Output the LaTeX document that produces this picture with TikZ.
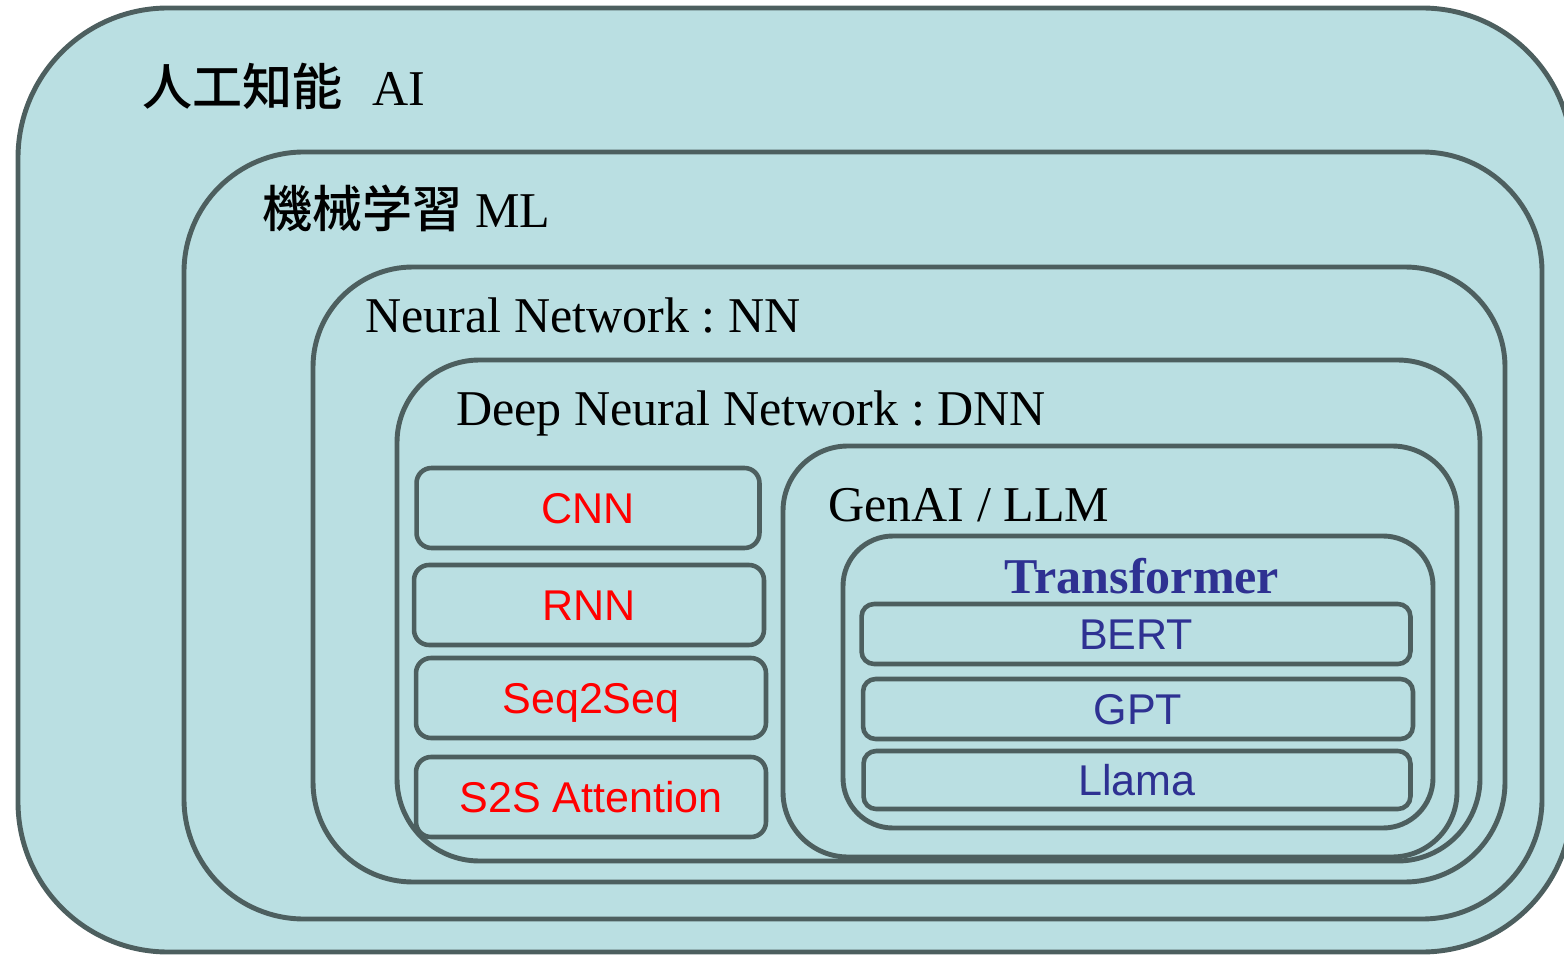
\documentclass[tikz,border=0pt]{standalone}
\usepackage{fontspec}
\setmainfont{Liberation Serif}
\setsansfont{Liberation Sans}
\newfontfamily\cjkfont{Noto Sans CJK JP}[BoldFont={Noto Sans CJK JP Medium}]
\definecolor{boxfill}{HTML}{BADFE2}
\definecolor{boxline}{HTML}{4D5F5F}
\definecolor{tfblue}{HTML}{2E3192}
\frenchspacing
\begin{document}
\begin{tikzpicture}[x=0.02cm, y=-0.02cm, every path/.style={line join=round},
    tier/.style={draw=boxline, fill=boxfill, line width=2.8pt},
    tiertext/.style={anchor=base west, inner sep=0pt, font=\fontsize{28.5}{34}\selectfont},
    model/.style={draw=boxline, line width=2.6pt, inner sep=0pt, text height=17.5pt, text depth=0pt, font=\sffamily\fontsize{24.5}{28}\selectfont},
    oldmodel/.style={model, rounded corners=0.3cm, minimum width=7cm, minimum height=1.6cm, text=red},
    newmodel/.style={model, rounded corners=0.25cm, minimum width=11cm, minimum height=1.2cm, text=tfblue}]
    \useasboundingbox (0,0) rectangle (1564,955);
    %Frames
    \draw[tier, rounded corners=3cm] (18,8) rectangle (1572,952);
    \draw[tier, rounded corners=2.4cm] (184,152) rectangle (1542,919);
    \draw[tier, rounded corners=2cm] (313,267) rectangle (1505,882);
    \draw[tier, rounded corners=1.65cm] (397,360) rectangle (1480,861);
    \draw[tier, rounded corners=1.3cm] (783,446) rectangle (1457,857);
    \draw[tier, rounded corners=1cm] (843,536) rectangle (1433,828);
    %Frame titles
    \node[tiertext] (ai) at (142,106) {{\cjkfont\bfseries 人工知能}\hspace{0.6em}AI};
    \node[tiertext] (ml) at (262,228) {{\cjkfont\bfseries 機械学習} ML};
    \node[tiertext] (nn) at (365,333) {Neural Network : NN};
    \node[tiertext] (dnn) at (456,426) {Deep Neural Network : DNN};
    \node[tiertext] (genai) at (828,521) {GenAI / LLM};
    \node[tiertext, anchor=base, font=\bfseries\fontsize{28.5}{34}\selectfont, text=tfblue] (transformer) at (1142,593) {Transformer};
    %Models before transformers
    \node[oldmodel, minimum width=6.86cm] (cnn) at (588,508) {CNN};
    \node[oldmodel] (rnn) at (589,605) {RNN};
    \node[oldmodel] (seq) at (591,698) {Seq2Seq};
    \node[oldmodel] (s2s) at (591,797) {S2S Attention};
    %Transformer models
    \node[newmodel, minimum width=10.98cm] (bert) at (1136,634) {BERT};
    \node[newmodel] (gpt) at (1138,709) {GPT};
    \node[newmodel, minimum width=10.94cm, minimum height=1.16cm] (llama) at (1137,780) {Llama};
\end{tikzpicture}
\end{document}
